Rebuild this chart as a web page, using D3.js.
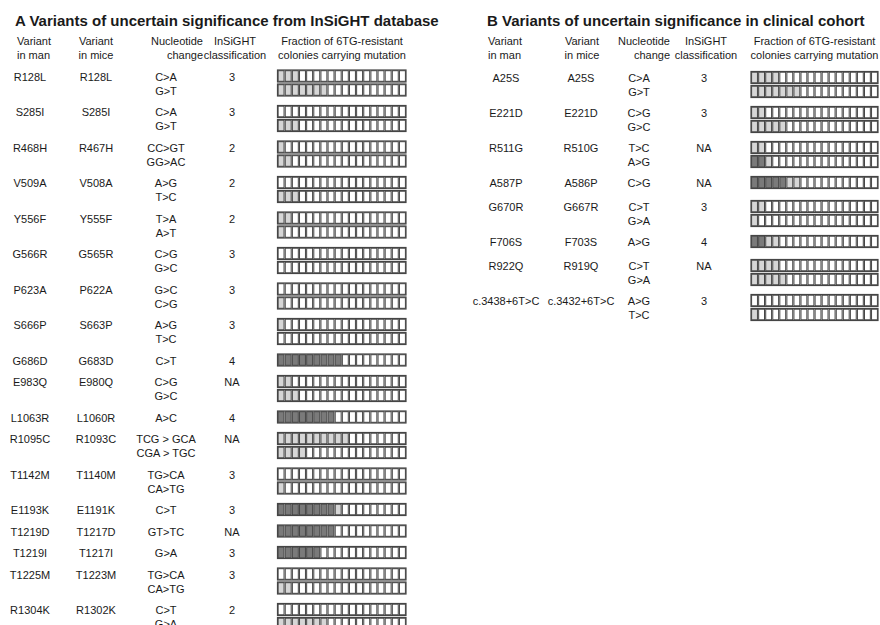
<!DOCTYPE html>
<html>
<head>
<meta charset="utf-8">
<script src="https://cdn.jsdelivr.net/npm/d3@7"></script>
<style>
  body { margin: 0; background: #fff; }
  text { font-family: "Liberation Sans", Arial, Helvetica, sans-serif; fill: #1a1a1a; }
</style>
</head>
<body>
<svg id="fig" width="880" height="625"></svg>
<script>
// ---- Panel A: variants of uncertain significance from the InSiGHT database ----
const manA = ["R128L", "S285I", "R468H", "V509A", "Y556F", "G566R", "P623A", "S666P", "G686D",
  "E983Q", "L1063R", "R1095C", "T1142M", "E1193K", "T1219D", "T1219I", "T1225M", "R1304K"];
const miceA = ["R128L", "S285I", "R467H", "V508A", "Y555F", "G565R", "P622A", "S663P", "G683D",
  "E980Q", "L1060R", "R1093C", "T1140M", "E1191K", "T1217D", "T1217I", "T1223M", "R1302K"];
const changeA = [["C>A", "G>T"], ["C>A", "G>T"], ["CC>GT", "GG>AC"], ["A>G", "T>C"], ["T>A", "A>T"],
  ["C>G", "G>C"], ["G>C", "C>G"], ["A>G", "T>C"], ["C>T"], ["C>G", "G>C"], ["A>C"],
  ["TCG > GCA", "CGA > TGC"], ["TG>CA", "CA>TG"], ["C>T"], ["GT>TC"], ["G>A"], ["TG>CA", "CA>TG"],
  ["C>T", "G>A"]];
const classA = ["3", "3", "2", "2", "2", "3", "3", "3", "4", "NA", "4", "NA", "3", "3", "NA", "3", "3", "2"];
// colonies per targeting event: dark = strongly resistant, light = weakly resistant
const darkA = [[0, 0], [0, 0], [0, 0], [0, 0], [0, 0], [0, 0], [0, 0], [0, 0], [9], [0, 0], [8],
  [0, 0], [0, 0], [8], [8], [6], [0, 0], [0, 0]];
const lightA = [[3, 7], [0, 3], [1, 2], [0, 3], [2, 1], [0, 0], [0, 1], [1, 0], [0], [2, 3], [0],
  [10, 4], [0, 1], [1], [0], [0], [0, 2], [0, 7]];

// ---- Panel B: variants of uncertain significance in the clinical cohort ----
const manB = ["A25S", "E221D", "R511G", "A587P", "G670R", "F706S", "R922Q", "c.3438+6T>C"];
const miceB = ["A25S", "E221D", "R510G", "A586P", "G667R", "F703S", "R919Q", "c.3432+6T>C"];
const changeB = [["C>A", "G>T"], ["C>G", "G>C"], ["T>C", "A>G"], ["C>G"], ["C>T", "G>A"], ["A>G"],
  ["C>T", "G>A"], ["A>G", "T>C"]];
const classB = ["3", "3", "NA", "NA", "3", "4", "NA", "3"];
const darkB = [[0, 0], [0, 0], [0, 2], [5], [0, 0], [2], [0, 0], [0, 0]];
const lightB = [[4, 7], [2, 5], [2, 1], [2], [2, 1], [2], [4, 5], [0, 1]];

const headers = [
  { key: "man", lines: ["Variant", "in man"] },
  { key: "mice", lines: ["Variant", "in mice"] },
  { key: "change", lines: ["Nucleotide", "change"] },
  { key: "cls", lines: ["InSiGHT", "classification"] },
  { key: "bar", lines: ["Fraction of 6TG-resistant", "colonies carrying mutation"] }
];

const COLONIES = 18;
const BAR_H = 12, BAR_PITCH = 14;
const COL_DARK = "#7a7a7a", COL_LIGHT = "#d6d6d6", COL_EMPTY = "#ffffff", COL_EDGE = "#454545";

const svg = d3.select("#fig");

function drawPanel(p) {
  const g = svg.append("g");

  g.append("text").attr("x", p.titleX).attr("y", 26)
    .attr("font-size", 15).attr("font-weight", "bold").text(p.title);

  // column headers
  headers.forEach(h => {
    const c = p.cols[h.key];
    h.lines.forEach((ln, i) => {
      g.append("text").attr("x", c.hx).attr("y", 45 + i * 13.5)
        .attr("text-anchor", c.hanchor).attr("font-size", 11).text(ln);
    });
  });

  // vertical layout: each row is as tall as its stack of bars
  const heights = p.dark.map(d => d.length === 2 ? p.rowH2 : p.rowH1);
  const tops = [0, ...d3.cumsum(heights)].slice(0, heights.length).map(v => v + p.top);

  const x = d3.scaleBand().domain(d3.range(COLONIES))
    .range([p.cols.bar.x0, p.cols.bar.x1]).paddingInner(0);

  p.man.forEach((name, i) => {
    const y0 = tops[i];
    const base = y0 + BAR_H / 2 + 4.5;
    const row = g.append("g");
    row.append("text").attr("x", p.cols.man.x).attr("y", base).attr("text-anchor", "middle")
      .attr("font-size", 11).text(name);
    row.append("text").attr("x", p.cols.mice.x).attr("y", base).attr("text-anchor", "middle")
      .attr("font-size", 11).text(p.mice[i]);
    p.change[i].forEach((c, j) => {
      row.append("text").attr("x", p.cols.change.x).attr("y", base + j * BAR_PITCH)
        .attr("text-anchor", "middle").attr("font-size", 11).text(c);
    });
    row.append("text").attr("x", p.cols.cls.x).attr("y", base).attr("text-anchor", "middle")
      .attr("font-size", 11).text(p.cls[i]);

    p.dark[i].forEach((nd, j) => {
      const nl = p.light[i][j];
      const by = y0 + j * BAR_PITCH;
      const cells = d3.range(COLONIES).map(k => ({
        k, fill: k < nd ? COL_DARK : (k < nd + nl ? COL_LIGHT : COL_EMPTY)
      }));
      const bar = row.append("g");
      bar.selectAll("rect.cell").data(cells).join("rect")
        .attr("class", "cell")
        .attr("x", d => x(d.k) + 0.6)
        .attr("y", by + 0.7)
        .attr("width", x.bandwidth() - 1.2)
        .attr("height", BAR_H - 1.4)
        .attr("fill", d => d.fill)
        .attr("stroke", COL_EDGE).attr("stroke-width", 1);
      bar.append("rect")
        .attr("x", x.range()[0]).attr("y", by)
        .attr("width", x.range()[1] - x.range()[0]).attr("height", BAR_H)
        .attr("fill", "none").attr("stroke", COL_EDGE).attr("stroke-width", 1.2);
    });
  });
}

drawPanel({
  title: "A Variants of uncertain significance from InSiGHT database",
  titleX: 15, top: 70, rowH2: 35.5, rowH1: 21.5,
  man: manA, mice: miceA, change: changeA, cls: classA, dark: darkA, light: lightA,
  cols: {
    man: { x: 30, hx: 17, hanchor: "start" },
    mice: { x: 96, hx: 96, hanchor: "middle" },
    change: { x: 166, hx: 203, hanchor: "end" },
    cls: { x: 232, hx: 235, hanchor: "middle" },
    bar: { x0: 277.5, x1: 406, hx: 342, hanchor: "middle" }
  }
});

drawPanel({
  title: "B Variants of uncertain significance in clinical cohort",
  titleX: 487, top: 71.5, rowH2: 35, rowH1: 24,
  man: manB, mice: miceB, change: changeB, cls: classB, dark: darkB, light: lightB,
  cols: {
    man: { x: 506, hx: 488, hanchor: "start" },
    mice: { x: 581, hx: 582, hanchor: "middle" },
    change: { x: 639, hx: 670, hanchor: "end" },
    cls: { x: 704, hx: 706, hanchor: "middle" },
    bar: { x0: 751, x1: 878, hx: 814.5, hanchor: "middle" }
  }
});
</script>
</body>
</html>
